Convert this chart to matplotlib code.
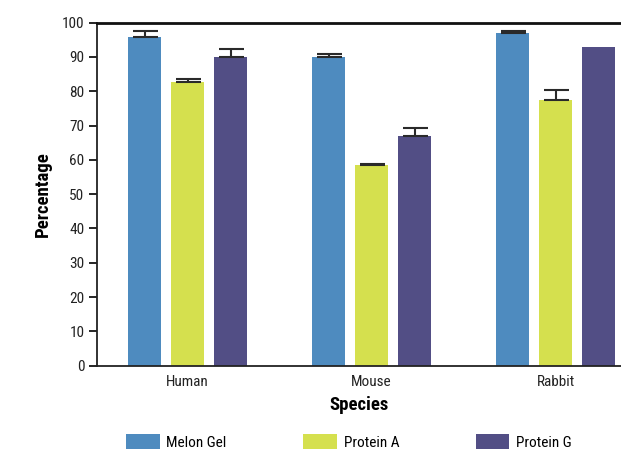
import matplotlib
matplotlib.use("Agg")
import matplotlib.pyplot as plt
import numpy as np

plt.rcParams['font.family'] = ['Roboto Condensed', 'DejaVu Sans']

species = ["Human", "Mouse", "Rabbit"]
series_names = ["Melon Gel", "Protein A", "Protein G"]
melon_gel = [95.8, 90.0, 97.0]
protein_a = [82.8, 58.5, 77.5]
protein_g = [90.0, 66.9, 92.9]
melon_gel_err = [1.8, 0.9, 0.7]
protein_a_err = [0.9, 0.4, 3.0]
protein_g_err = [2.4, 2.5, 0.0]
yticks = [0, 10, 20, 30, 40, 50, 60, 70, 80, 90, 100]

colors = ["#4E8BBF", "#D5E04E", "#524E85"]

W, H = 621, 449
fig = plt.figure(figsize=(W / 100, H / 100), dpi=100)
ax = fig.add_axes([97 / W, (H - 365.7) / H, (W - 97) / W, (365.7 - 22.7) / H])

x = np.arange(len(species))
width = 33 / 184
offset = 43 / 184
values = [melon_gel, protein_a, protein_g]
errs = [melon_gel_err, protein_a_err, protein_g_err]
for i, (vals, err, c, name) in enumerate(zip(values, errs, colors, series_names)):
    pos = x + (i - 1) * offset
    ax.bar(pos, vals, width, color=c, label=name, zorder=2)
    e = np.array(err)
    mask = e > 0
    ax.errorbar(pos[mask], np.array(vals)[mask], yerr=[np.zeros(mask.sum()), e[mask]],
                fmt='none', ecolor='#2a2a2a', elinewidth=1.5, capsize=9, capthick=1.5, zorder=3)

ax.set_xlim(-0.492, 2 + (W - 555.5) / 184)
ax.set_ylim(0, 100)
ax.set_yticks(yticks)
ax.set_xticks(x)
ax.set_xticklabels(species, fontsize=11, color='#222222')
ax.tick_params(axis='x', length=0, pad=7)
ax.tick_params(axis='y', length=6, width=1.2, labelsize=11, labelcolor='#222222', pad=3)
ax.spines['right'].set_visible(False)
for s in ['left', 'bottom']:
    ax.spines[s].set_linewidth(1.3)
    ax.spines[s].set_color('#222222')
ax.spines['top'].set_linewidth(2)
ax.spines['top'].set_color('#111111')

ax.set_xlabel("Species", fontsize=13.5, fontweight='bold', labelpad=5)
ax.set_ylabel("Percentage", fontsize=13.5, fontweight='bold', labelpad=7)

fig.legend(loc='upper left', bbox_to_anchor=(126 / W, (H - 434) / H), ncol=3,
           frameon=False, fontsize=11, handlelength=2.2, handleheight=1.15,
           handletextpad=0.45, columnspacing=5.0, borderpad=0, borderaxespad=0)

fig.savefig("out.png", dpi=100)
